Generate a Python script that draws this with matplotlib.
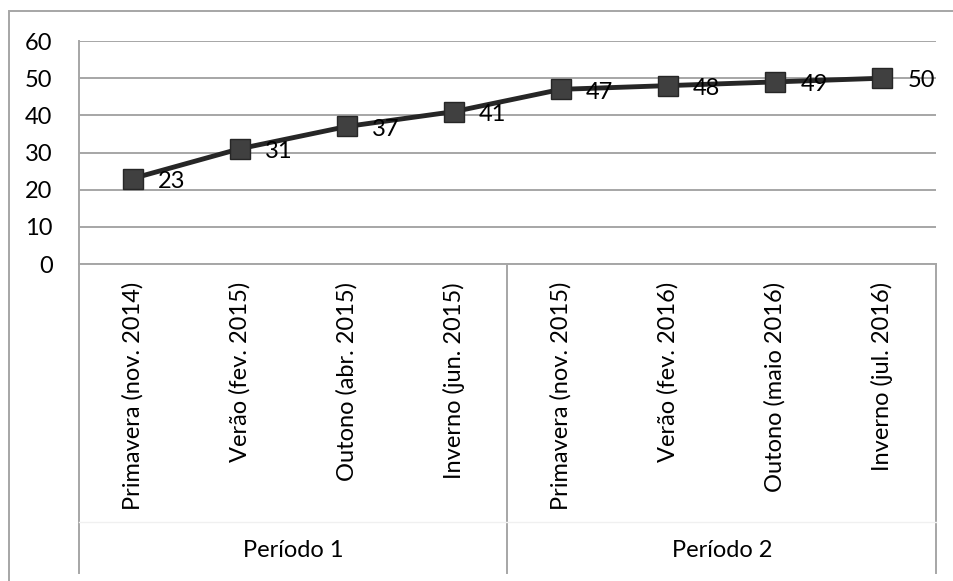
import numpy as np
import matplotlib
matplotlib.use('Agg')
from matplotlib import pyplot as plt
from matplotlib import transforms
from matplotlib.patches import Rectangle

plt.rcParams['font.family'] = ['Lato', 'DejaVu Sans']

## seasons and values
categories = ['Primavera (nov. 2014)', 'Verão (fev. 2015)', 'Outono (abr. 2015)', 'Inverno (jun. 2015)',
              'Primavera (nov. 2015)', 'Verão (fev. 2016)', 'Outono (maio 2016)', 'Inverno (jul. 2016)']
values = [23, 31, 37, 41, 47, 48, 49, 50]
groups = ['Período 1', 'Período 2']
group_sizes = [4, 4]

grid_col = '#a6a6a6'
fs = 17

fig = plt.figure(figsize=[9.54, 5.81], dpi=100)
ax = fig.add_axes([0.0828, 0.5456, 0.8983, 0.3838])

x = np.arange(1, len(categories) + 1)
ax.plot(x, values, color='#262626', linewidth=3.5, marker='s', markersize=15,
        markerfacecolor='#404040', markeredgecolor='#262626', markeredgewidth=1, zorder=3)

for xi, v in zip(x, values):
    ax.annotate(str(v), (xi, v), xytext=(18, -2), textcoords='offset points',
                ha='left', va='center', fontsize=fs, color='black', zorder=4)

ax.set_xlim(0.5, len(categories) + 0.5)
ax.set_ylim(0, 60)
ax.set_yticks(np.arange(0, 61, 10))
ax.yaxis.grid(True, color=grid_col, linewidth=1.4)
ax.set_axisbelow(True)
for side in ['top', 'right']:
    ax.spines[side].set_visible(False)
ax.spines['left'].set_color(grid_col)
ax.spines['bottom'].set_color(grid_col)
ax.spines['left'].set_linewidth(1.4)
ax.spines['bottom'].set_linewidth(1.4)
ax.tick_params(axis='y', length=0, pad=19, labelsize=fs)
ax.tick_params(axis='x', length=0, pad=13, labelsize=fs)
ax.set_xticks(x)
ax.set_xticklabels(categories, rotation=90, va='top', ha='center')

## grouped category axis below the ticks
trans = transforms.blended_transform_factory(ax.transData, ax.transAxes)
bottom = -1.386
edges = np.concatenate([[0], np.cumsum(group_sizes)]) + 0.5
for e in edges:
    ax.plot([e, e], [0, bottom], transform=trans, color=grid_col, linewidth=1.4, clip_on=False)
ax.plot([edges[0], edges[-1]], [-1.156, -1.156], transform=trans, color='#f0f0f0',
        linewidth=1, clip_on=False)
for g, lo, hi in zip(groups, edges[:-1], edges[1:]):
    ax.text((lo + hi) / 2, -1.287, g, transform=trans, ha='center', va='center', fontsize=fs)

## chart border
fig.patches.append(Rectangle((0.0099, -0.05), 1.1, 0.05 + 0.981, transform=fig.transFigure,
                             fill=False, edgecolor=grid_col, linewidth=1.4))

plt.savefig('out.png', dpi=100)
plt.close()
